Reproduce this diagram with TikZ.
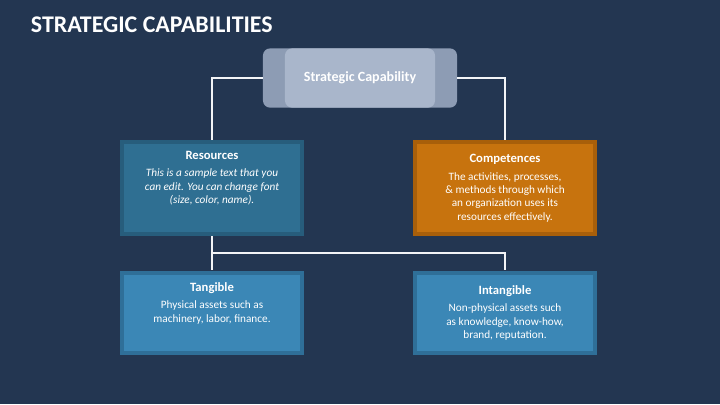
\documentclass[tikz,border=0pt]{standalone}
\usepackage{fontspec}
\setmainfont{Carlito}
\usetikzlibrary{positioning}
\definecolor{bgnavy}{HTML}{233651}
\definecolor{capgray}{HTML}{A9B6CB}
\definecolor{capside}{HTML}{8D9CB4}
\definecolor{resblue}{HTML}{2F6F92}
\definecolor{resframe}{HTML}{275D7C}
\definecolor{compor}{HTML}{C7730E}
\definecolor{compframe}{HTML}{A85F0A}
\definecolor{assetblue}{HTML}{3B87B6}
\definecolor{assetframe}{HTML}{2F6F98}
\tikzset{
  card/.style 2 args={rectangle, fill=#2, text=white, align=center, font=\footnotesize,
    minimum width=4.6cm, minimum height=2.4cm,
    path picture={\fill[#1] ([xshift=3pt,yshift=3pt]path picture bounding box.south west)
      rectangle ([xshift=-3pt,yshift=-3pt]path picture bounding box.north east);}},
  link/.style={draw=white!85!capgray, line width=1pt}
}
\begin{document}
\begin{tikzpicture}[x=0.025cm,y=-0.025cm]
\fill[bgnavy] (0,0) rectangle (720,404);
\useasboundingbox (0,0) rectangle (720,404);
\node[anchor=west, text=white, font=\bfseries\fontsize{17}{20}\selectfont] (title) at (26,25) {STRATEGIC CAPABILITIES};
% top box
\node[rectangle, rounded corners=5pt, fill=capside, minimum width=4.85cm, minimum height=1.48cm,
  path picture={\fill[capgray] ([xshift=0.55cm]path picture bounding box.south west)
    rectangle ([xshift=-0.55cm]path picture bounding box.north east);},
  text=white, font=\normalsize\bfseries] (cap) at (360,78) {Strategic Capability};
% cards
\node[card={resblue}{resframe}] (res) at (212,188) {{\small\bfseries Resources}\\[3pt]
  \itshape This is a sample text that you\\ \itshape can edit. You can change font\\ \itshape (size, color, name).\\[6pt]};
\node[card={compor}{compframe}] (comp) at (505,188) {{\small\bfseries Competences}\\[3pt]
  The activities, processes,\\ \& methods through which\\ an organization uses its\\ resources effectively.};
\node[card={assetblue}{assetframe}, minimum height=2.12cm] (tang) at (212,313) {{\small\bfseries Tangible}\\[3pt]
  Physical assets such as\\ machinery, labor, finance.\\[6pt]};
\node[card={assetblue}{assetframe}, minimum height=2.12cm] (intang) at (505,313) {{\small\bfseries Intangible}\\[3pt]
  Non-physical assets such\\ as knowledge, know-how,\\ brand, reputation.};
% connectors
\coordinate (fork) at (212,253);
\draw[link] (cap.west) -| (res.north);
\draw[link] (cap.east) -| (comp.north);
\draw[link] (res.south) -- (fork) -- (tang.north);
\draw[link] (fork) -| (intang.north);
\end{tikzpicture}
\end{document}
